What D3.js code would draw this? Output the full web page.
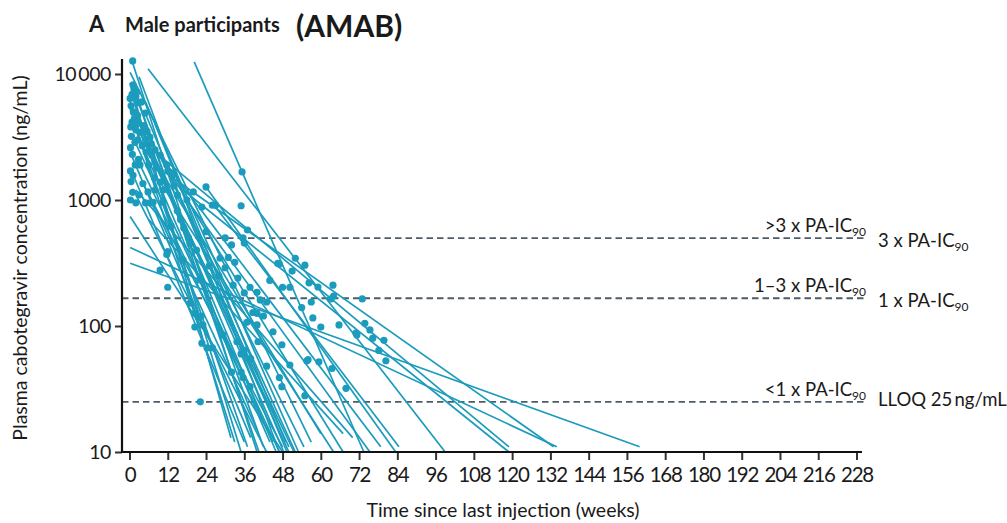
<!DOCTYPE html>
<html><head><meta charset="utf-8">
<script src="https://cdn.jsdelivr.net/npm/d3@7"></script>
<style>
body{margin:0;background:#fff}
svg{display:block}
text{font-family:Lato,"Open Sans",sans-serif;fill:#1a1a1a}
</style>
</head><body>
<svg id="chart" width="1007" height="523"></svg>
<script>
// ---- data ----
const weekTicks = [0,12,24,36,48,60,72,84,96,108,120,132,144,156,168,180,192,204,216,228];
const concTicks = [10,100,1000,10000];
const concTickLabels = ["10","100","1000","10\u2009000"];
const thresholdValues = [498,166,25];
const thresholdLeftLabels = [[">3 x PA-IC","90"],["1\u20133 x PA-IC","90"],["<1 x PA-IC","90"]];
const thresholdRightLabels = [["3 x PA-IC","90"],["1 x PA-IC","90"],["LLOQ 25\u2009ng/mL",""]];

// fitted decline per participant: start [week, ng/mL] -> end [week, ng/mL]
const fitStart = [
 [0.8,12700],[0.2,8500],[0.5,7200],[1.1,8200],[2.3,6400],[0.2,6000],[1.5,5200],[4.9,4900],[0.8,4200],
 [3.5,3450],[1.7,2900],[6.4,3200],[0.5,2300],[7,2300],[3.3,1900],[1.1,1600],[9.6,2300],[4.2,1350],
 [5.8,1160],[2,3800],[0,5500],[3,9500],[1,4500],[5,6000],[0.2,740],[2,1100],[8,4000],
 [20.3,12500],[0.2,10300],[9.6,1390],[12.7,1660],[4,3000],[18,1000],[11.7,1900],[2,1200],[24,1270],[26,950],[6,700],
 [5.8,11000],[6.4,2600],[16.8,1200],[0.2,420],[12,1600],[0.2,315]
];
const fitEnd = [
 [40,10],[31.8,13],[35,10],[40.6,10],[42,11],[46,10],[48.4,10],[49.4,10],[44,12],
 [51.6,10],[47,10],[54.7,11],[38,13],[50,10],[45,12],[36,12],[52,10],[48,11],
 [40,15],[37,11],[33,12],[47,10],[50,11],[53,10],[48,10],[43,10],[49,12],
 [73.5,10],[57,12],[64,10],[67,10],[60,14],[75.4,10],[78.8,11],[70,13],[83.5,10],[84.5,11],[67,14],
 [99,10],[119,11],[119,10],[134,11],[133,11],[160,11]
];

// observed samples [week, ng/mL]
const samples = [
 [0.2,6400],[0.5,5600],[0.8,4150],[1.1,8200],[2.3,7200],[1,12700],[0.4,3800],[0.6,3200],[0.3,2600],[0.9,2300],
 [1.2,5000],[1.5,4400],[1.7,2870],[1.1,1570],[0.5,1400],[0.3,1700],[2.0,3600],[2.5,4700],[2.8,2100],[3.3,1900],
 [3.5,3450],[3.0,5900],[4.2,1350],[4.0,2700],[4.5,3900],[4.9,4900],[5.2,2400],[5.8,1160],[6.4,3150],[6.0,1900],
 [7.0,2270],[7.4,960],[7.8,1500],[8.5,1800],[9.6,2270],[9.6,1390],[10.5,1200],[11.7,1900],[12.0,1700],[12.7,1660],
 [2.0,6600],[1.4,7600],[0.8,6900],[3.8,6000],[2.2,4000],[2.6,3000],[1.8,1900],[5.5,3500],[6.8,2800],[8.0,2500],
 [0.3,1000],[1.0,1150],[3.0,1100],[2.0,950],
 [5,950],[6.5,950],[12,390],[11.7,370],[9.6,278],[12,203],[16.8,334],[10.5,960],[14,1300],[15,1100],
 [18,1000],[20,1160],[24,1270],[26,910],[27,910],[22.7,880],[13,620],[16,700],[18.5,500],[15,820],
 [19,152],[20.5,126],[21.5,118],[22.5,120],[22,232],[28.4,345],[20.5,98],[23,102],[29.3,85],[22.7,73],
 [24.3,67],[26,67],[14,1600],[8,1200],[17,600],[19,450],[21,400],[25,300],[28,250],[24,560],[30,500],
 [35.3,1670],[35,900],[37,578],[35.6,500],[36,455],[32,440],[32.5,211],[37.8,203],[36,183],[41,161],
 [43,155],[38.7,128],[36.8,107],[40,126],[40,102],[40.3,75],[33.7,75],[32,43],[35,43],[35.6,39],
 [37.8,33],[35,60],[36,64],[46.5,314],[52,345],[47,310],[51,273],[48,203],[50.3,203],[47.8,71],
 [47,39],[47.8,33],[50.3,49],[40,185],[30,290],[34,240],[44,230],[42,120],[45,90],[38,55],[43,48],
 [31,350],[33,320],
 [55,304],[56.3,220],[59.1,204],[63.8,211],[64,173],[63.2,164],[73,164],[57,155],[57.5,116],[65.7,102],
 [71,88],[73.8,105],[75.4,93],[76.3,80],[78.2,64],[79.8,77],[80.4,53],[67.9,32],[63.5,46],[59.4,52],
 [55.6,53],[55,28],[56,54],[71.3,85],[60,98],[54,140],
 [22.2,25]
];

// ---- drawing ----
const svg = d3.select("#chart");
const teal = "#1b9cbc";
const x = d3.scaleLinear().domain([0,228]).range([129.5,856.5]);
const y = d3.scaleLog().domain([10,10000]).range([452,74]);
const axisLeftX = 122, axisBottomY = 452;

// threshold lines
const thr = svg.append("g");
thresholdValues.forEach((v,i)=>{
  thr.append("line").attr("x1",axisLeftX).attr("x2",866)
    .attr("y1",y(v)).attr("y2",y(v))
    .attr("stroke","#4d5c68").attr("stroke-width",1.8).attr("stroke-dasharray","6.5,4");
  const tl = thr.append("text").attr("x",866).attr("y",y(v)-6).attr("text-anchor","end").attr("font-size",18.5);
  tl.append("tspan").text(thresholdLeftLabels[i][0]);
  tl.append("tspan").attr("font-size",12).attr("dy",4).text(thresholdLeftLabels[i][1]);
  const tr = thr.append("text").attr("x",878).attr("y",y(v)+ (i===2?4:9)).attr("font-size",18.5);
  tr.append("tspan").text(thresholdRightLabels[i][0]);
  if (thresholdRightLabels[i][1]) tr.append("tspan").attr("font-size",12).attr("dy",4).text(thresholdRightLabels[i][1]);
});

// fitted lines
const fits = fitStart.map((s,i)=>[s,fitEnd[i]]);
svg.append("g").selectAll("line").data(fits).join("line")
  .attr("x1",d=>x(d[0][0])).attr("y1",d=>y(d[0][1]))
  .attr("x2",d=>x(d[1][0])).attr("y2",d=>y(d[1][1]))
  .attr("stroke",teal).attr("stroke-width",1.7);

// samples
svg.append("g").selectAll("circle").data(samples).join("circle")
  .attr("cx",d=>x(d[0])).attr("cy",d=>y(d[1])).attr("r",3.6).attr("fill",teal);

// y axis
const yAxis = svg.append("g").attr("transform",`translate(${axisLeftX},0)`)
  .call(d3.axisLeft(y).tickValues(concTicks).tickFormat((d,i)=>concTickLabels[i]).tickSize(7).tickSizeOuter(0));
yAxis.select(".domain").remove();
yAxis.append("line").attr("x1",0).attr("x2",0).attr("y1",59).attr("y2",axisBottomY+1).attr("stroke","#111").attr("stroke-width",2.2);
yAxis.selectAll(".tick line").attr("stroke","#333").attr("stroke-width",2);
yAxis.selectAll(".tick text").attr("font-size",19.5).attr("font-family","Lato, sans-serif").attr("fill","#1a1a1a").attr("x",-11).attr("letter-spacing","-0.4");

// x axis
const xAxis = svg.append("g").attr("transform",`translate(0,${axisBottomY})`)
  .call(d3.axisBottom(x).tickValues(weekTicks).tickFormat(d3.format("d")).tickSize(8).tickSizeOuter(0));
xAxis.select(".domain").remove();
xAxis.append("line").attr("x1",axisLeftX-1).attr("x2",862).attr("y1",0).attr("y2",0).attr("stroke","#111").attr("stroke-width",2.2);
xAxis.selectAll(".tick line").attr("stroke","#333").attr("stroke-width",2);
xAxis.selectAll(".tick text").attr("font-size",20.5).attr("font-family","Lato, sans-serif").attr("fill","#1a1a1a").attr("y",15).attr("letter-spacing","-1.2");

// axis titles
svg.append("text").attr("x",503).attr("y",517).attr("text-anchor","middle").attr("font-size",19.5)
  .text("Time since last injection (weeks)");
svg.append("text").attr("transform","translate(27,258) rotate(-90)").attr("text-anchor","middle").attr("font-size",19.5)
  .text("Plasma cabotegravir concentration (ng/mL)");

// title
svg.append("text").attr("x",89).attr("y",32).attr("font-size",22).attr("font-weight",700).text("A");
svg.append("text").attr("x",125).attr("y",32).attr("font-size",20).attr("font-weight",700).text("Male participants");
svg.append("text").attr("x",296).attr("y",37).attr("font-size",30).attr("font-weight",700)
  .attr("font-family","'Liberation Sans',Arial,sans-serif").attr("fill","#000").text("(AMAB)");
</script>
</body></html>
